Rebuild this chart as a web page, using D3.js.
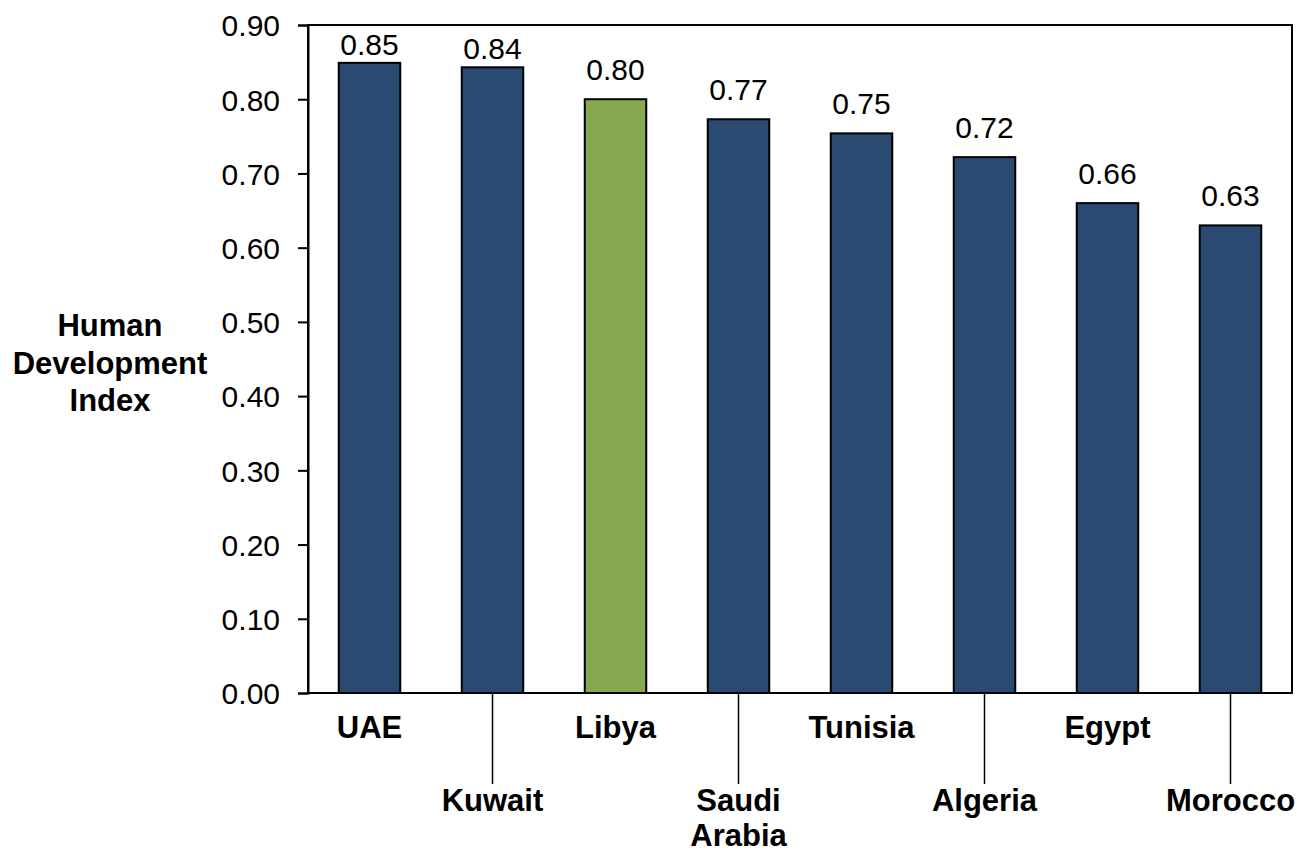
<!DOCTYPE html>
<html>
<head>
  <meta charset="UTF-8">
  <title>Human Development Index</title>
  <script src="https://d3js.org/d3.v7.min.js"></script>
  <style>
    body {
      margin: 0;
      padding: 0;
      background: #ffffff;
      font-family: "Liberation Sans", Arial, sans-serif;
    }
    svg { display: block; }
  </style>
</head>
<body>
<svg></svg>

<script>
// data
const countries = ["UAE", "Kuwait", "Libya", "Saudi Arabia", "Tunisia", "Algeria", "Egypt", "Morocco"];
const hdi = [0.849, 0.843, 0.800, 0.773, 0.754, 0.722, 0.660, 0.630];
const highlight = "Libya";
const yTicks = [0, 0.1, 0.2, 0.3, 0.4, 0.5, 0.6, 0.7, 0.8, 0.9];
const yTitle = ["Human", "Development", "Index"];

let width = 1297, height = 851;
let margin = {top: 25, right: 5, bottom: 158, left: 308};

let svg = d3.select("svg").attr("width", width).attr("height", height);

let x = d3.scaleBand()
  .domain(countries)
  .range([margin.left, width - margin.right])
  .paddingInner(0.5)
  .paddingOuter(0.25);

let y = d3.scaleLinear()
  .domain([0, 0.9])
  .range([height - margin.bottom, margin.top]);

const blue = "#2a4a72", green = "#86a84e";

// bars
svg.append("g")
  .selectAll("rect")
  .data(countries)
  .join("rect")
  .attr("x", d => x(d))
  .attr("y", (d, i) => y(hdi[i]))
  .attr("width", x.bandwidth())
  .attr("height", (d, i) => y(0) - y(hdi[i]))
  .attr("fill", d => d === highlight ? green : blue)
  .attr("stroke", "#000")
  .attr("stroke-width", 2);

// value labels (squeezed closer to the bar when near the top of the frame)
svg.append("g")
  .selectAll("text")
  .data(countries)
  .join("text")
  .attr("x", d => x(d) + x.bandwidth() / 2)
  .attr("y", (d, i) => {
    let top = y(hdi[i]);
    return top - (top - margin.top < 50 ? 8 : 19);
  })
  .attr("text-anchor", "middle")
  .style("font-size", "30px")
  .style("fill", "#000")
  .text((d, i) => d3.format(".2f")(hdi[i]));

// plot frame
svg.append("rect")
  .attr("x", margin.left)
  .attr("y", margin.top)
  .attr("width", width - margin.right - margin.left)
  .attr("height", y(0) - margin.top)
  .attr("fill", "none")
  .attr("stroke", "#000")
  .attr("stroke-width", 2);

// y axis
let yAxis = d3.axisLeft(y)
  .tickValues(yTicks)
  .tickFormat(d3.format(".2f"))
  .tickSize(10)
  .tickPadding(18);

let yg = svg.append("g")
  .attr("transform", `translate(${margin.left},0)`)
  .call(yAxis);
yg.select(".domain").attr("stroke", "#000").attr("stroke-width", 2);
yg.selectAll(".tick line").attr("stroke", "#000").attr("stroke-width", 2);
yg.selectAll(".tick text")
  .style("font-size", "30px")
  .style("font-family", "'Liberation Sans', Arial, sans-serif")
  .attr("fill", "#000")
  .attr("dy", "0.36em");

// x axis labels, staggered with leader lines
let xg = svg.append("g");
countries.forEach((c, i) => {
  let cx = x(c) + x.bandwidth() / 2;
  let low = i % 2 === 1;
  let baseY = low ? 811 : 738;
  if (low) {
    xg.append("line")
      .attr("x1", cx).attr("x2", cx)
      .attr("y1", y(0)).attr("y2", 784)
      .attr("stroke", "#000")
      .attr("stroke-width", 1.5);
  }
  let t = xg.append("text")
    .attr("text-anchor", "middle")
    .style("font-size", "31px")
    .style("font-weight", "bold")
    .attr("fill", "#000");
  c.split(" ").forEach((w, j) => {
    t.append("tspan").attr("x", cx).attr("y", baseY + j * 34.5).text(w);
  });
});

// y title
let yt = svg.append("text")
  .attr("text-anchor", "middle")
  .style("font-size", "31px")
  .style("font-weight", "bold")
  .attr("fill", "#000");
yTitle.forEach((w, j) => {
  yt.append("tspan").attr("x", 110).attr("y", 336 + j * 37.5).text(w);
});
</script>

</body>
</html>
